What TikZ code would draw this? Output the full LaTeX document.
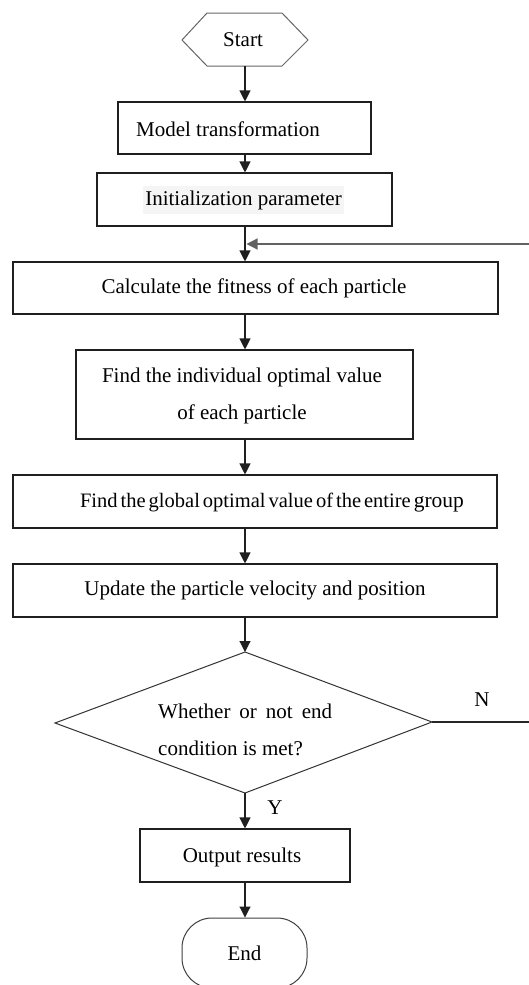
\documentclass[tikz,border=0pt]{standalone}
\usepackage{fontspec}
\setmainfont{Liberation Serif}
\usetikzlibrary{arrows.meta}
\begin{document}
\begin{tikzpicture}[x=1pt,y=-1pt,
  box/.style={draw=black!88, line width=1.1pt, inner sep=0pt},
  lbl/.style={inner sep=0pt, font=\fontsize{21}{37}\selectfont},
  arr/.style={draw=black!88, line width=1.1pt, -{Triangle[length=11pt,width=11pt]}},
  fb/.style={draw=black!62, line width=1.2pt}]
\useasboundingbox (0,0) rectangle (528,985);
\fill[white] (0,0) rectangle (528,985);
% Start hexagon
\draw[draw=black!60, line width=1pt] (207,13) -- (282,13) -- (308,40) -- (282,66) -- (207,66) -- (182,40) -- cycle;
\node[lbl] (start) at (243,40) {Start};
\coordinate (startbot) at (245,66);
% boxes
\node[box, minimum width=253pt, minimum height=52pt] (model) at (244.5,128) {};
\node[lbl] (tmodel) at (228,129) {Model transformation};
\node[box, minimum width=295pt, minimum height=53pt] (init) at (244.5,199.5) {};
\node[lbl, fill=black!4, inner xsep=2pt, inner ysep=4pt] (tinit) at (243.5,200) {Initialization parameter};
\node[box, minimum width=485pt, minimum height=52pt] (calc) at (255.5,288) {};
\node[lbl] (tcalc) at (254,288) {Calculate the fitness of each particle};
\node[box, minimum width=337pt, minimum height=89pt] (indiv) at (244.5,394.5) {};
\node[lbl, align=center] (tindiv) at (242,396) {Find the individual optimal value\\of each particle};
\node[box, minimum width=484pt, minimum height=53pt] (global) at (255,501.5) {};
\node[lbl, font=\fontsize{20.5}{37}\selectfont] (tglobal) at (272,503) {\spaceskip=3pt Find the global optimal value of the entire \fontsize{21.5}{37}\selectfont group};
\node[box, minimum width=484pt, minimum height=53pt] (update) at (255,590.5) {};
\node[lbl] (tupdate) at (255,590) {Update the particle velocity and position};
% diamond
\coordinate (dt) at (245,652);
\coordinate (dr) at (432,722);
\coordinate (db) at (245,793);
\coordinate (dl) at (55,723);
\draw[draw=black!80, line width=1pt] (dt) -- (dr) -- (db) -- (dl) -- cycle;
\node[lbl, align=left, anchor=west] (tdec) at (158,730) {{\spaceskip=9pt Whether or not end}\\condition is met?};
\node[box, minimum width=210pt, minimum height=53pt] (output) at (245,855.5) {};
\node[lbl] (toutput) at (242,857) {Output results};
\node[draw=black!75, line width=1pt, rounded corners=30pt, minimum width=125pt, minimum height=70pt, inner sep=0pt, font=\fontsize{21}{24}\selectfont] (endn) at (244.5,953) {End};
% labels
\node[lbl] (nlab) at (482,700) {N};
\node[lbl] (ylab) at (275,808) {Y};
% connectors
\draw[arr] (startbot) -- (startbot |- model.north);
\draw[arr] (startbot |- model.south) -- (startbot |- init.north);
\draw[arr] (startbot |- init.south) -- (startbot |- calc.north);
\draw[arr] (startbot |- calc.south) -- (startbot |- indiv.north);
\draw[arr] (startbot |- indiv.south) -- (startbot |- global.north);
\draw[arr] (startbot |- global.south) -- (startbot |- update.north);
\draw[arr] (startbot |- update.south) -- (dt);
\draw[arr] (db) -- (startbot |- output.north);
\draw[arr] (startbot |- output.south) -- (startbot |- endn.north);
\coordinate (fbr) at (530,722);
\coordinate (fbt) at (530,244);
\coordinate (fbend) at (246.5,244);
\draw[draw=black!85, line width=1.1pt] (dr) -- (fbr);
\draw[fb, -{Triangle[length=11pt,width=11pt]}] (fbr) -- (fbt) -- (fbend);
\end{tikzpicture}
\end{document}
